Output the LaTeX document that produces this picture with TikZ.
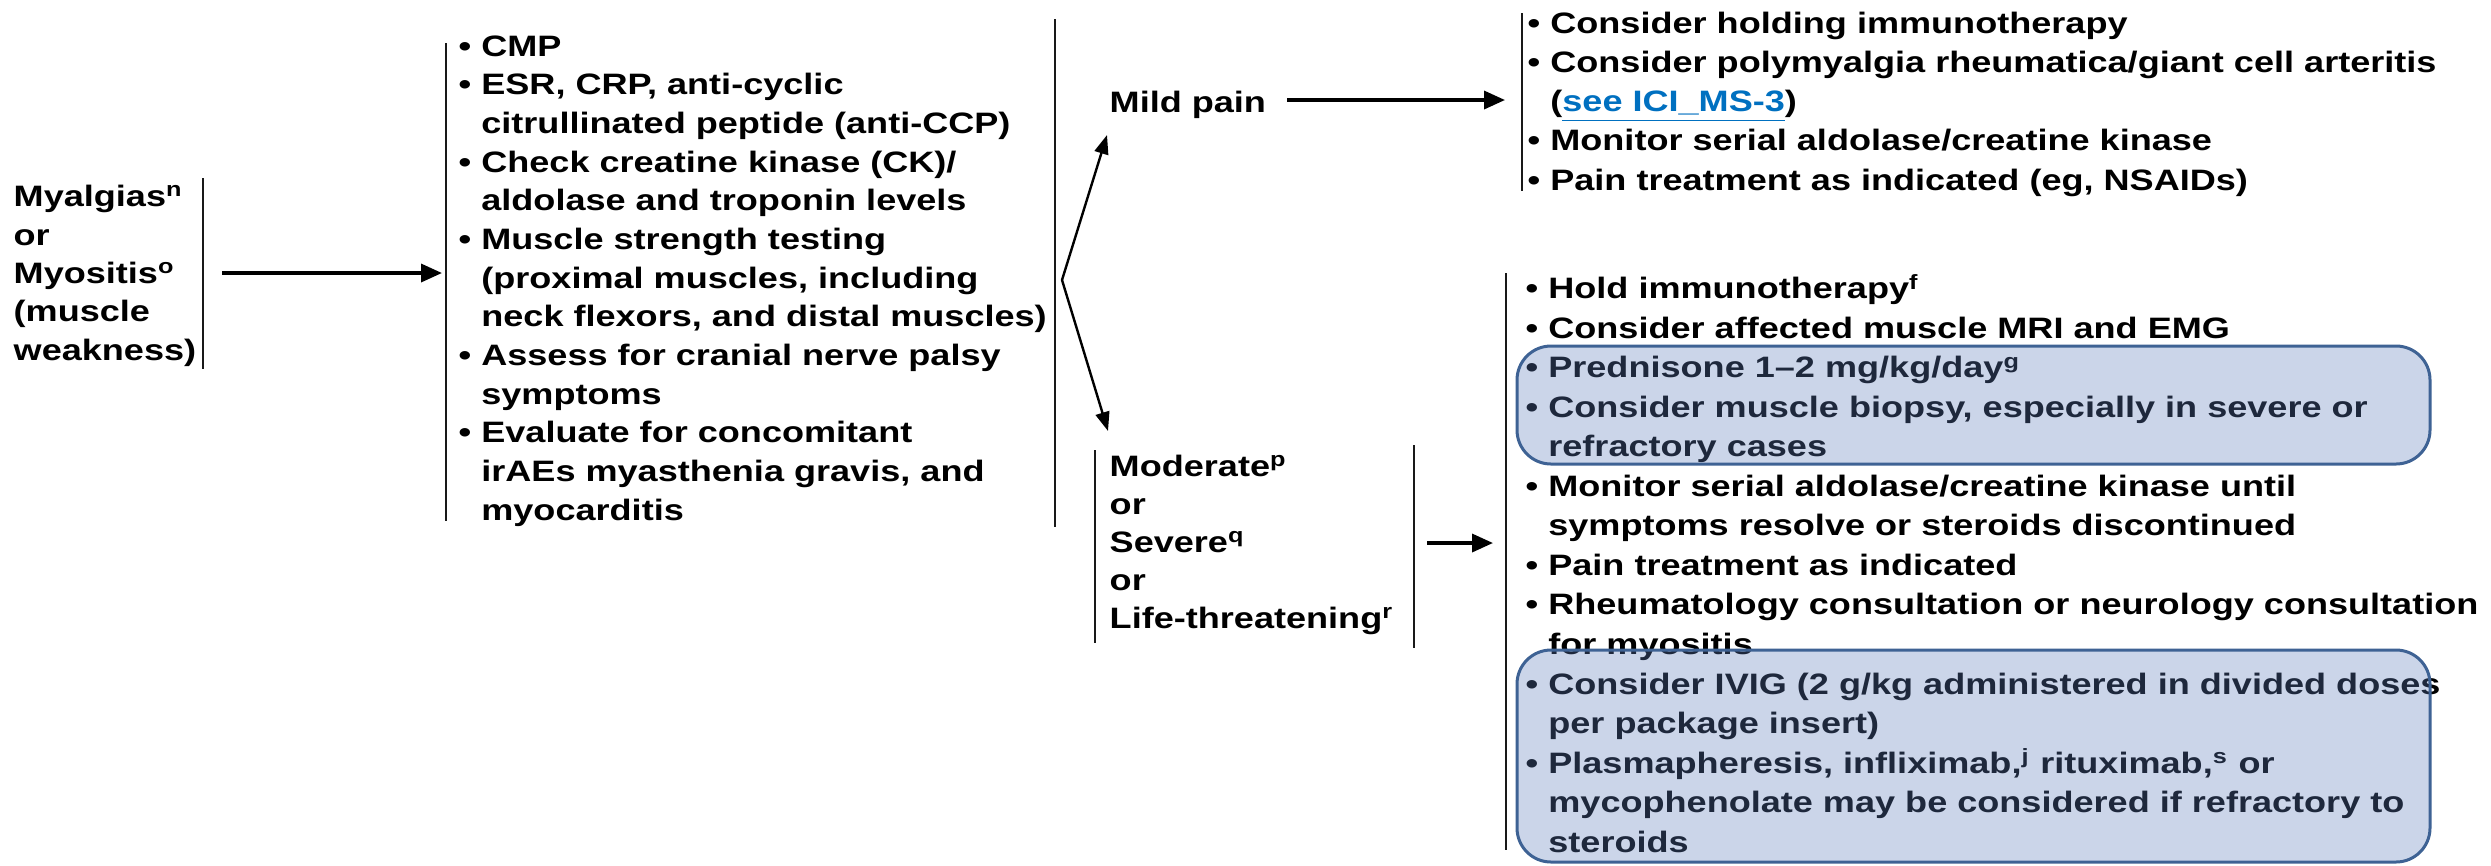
\documentclass[tikz,border=0pt]{standalone}
\usepackage{fontspec}
\setmainfont{Liberation Sans}[FakeStretch=1.222]
\usetikzlibrary{arrows.meta}

\definecolor{boxblue}{RGB}{94,125,188}
\definecolor{boxedge}{RGB}{62,98,148}
\definecolor{linkblue}{RGB}{0,112,192}
\definecolor{barcol}{RGB}{25,25,25}

% continuation indent equal to a bullet and its space
\newcommand{\ind}{\phantom{•\ }}
\newcommand{\xref}[1]{\textcolor{linkblue}{\underline{#1}}}

% text blocks are placed by the baseline of their last line
\tikzset{
  txt/.style={anchor=base west, inner sep=0pt, align=left,
              font=\bfseries\fontsize{8.4pt}{#1}\selectfont},
  txt/.default={11.05pt},
  bar/.style={draw=barcol, line width=0.028cm},
  arr/.style={draw=black, line width=0.035cm,
              -{Triangle[length=0.21cm,width=0.18cm]}},
  thinarr/.style={draw=black, line width=0.024cm,
              -{Triangle[length=0.19cm,width=0.14cm]}},
  hilite/.style={rounded corners=0.34cm, fill=boxblue, fill opacity=0.32,
                 draw=boxedge, draw opacity=1, line width=0.03cm},
}

\begin{document}
\begin{tikzpicture}
\useasboundingbox[fill=white] (0,0) rectangle (24.91,-8.65);

% ---------- symptom ----------
\node[txt=10.9pt] (sym) at (0.13,-3.60)
  {Myalgias\textsuperscript{n}\\ or\\ Myositis\textsuperscript{o}\\ (muscle\\ weakness)};
\coordinate (symT) at (2.03,-1.78);
\coordinate (symB) at (2.03,-3.69);
\draw[bar] (symT) -- (symB);

% ---------- workup ----------
\node[txt=11.0pt] (work) at (4.58,-5.20)
  {• CMP\\
   • ESR, CRP, anti-cyclic\\
   \ind citrullinated peptide (anti-CCP)\\
   • Check creatine kinase (CK)/\\
   \ind aldolase and troponin levels\\
   • Muscle strength testing\\
   \ind (proximal muscles, including\\
   \ind neck flexors, and distal muscles)\\
   • Assess for cranial nerve palsy\\
   \ind symptoms\\
   • Evaluate for concomitant\\
   \ind irAEs myasthenia gravis, and\\
   \ind myocarditis};
\coordinate (workT) at (4.46,-0.43);
\coordinate (workB) at (4.46,-5.21);
\draw[bar] (workT) -- (workB);
\coordinate (workRT) at (10.55,-0.19);
\coordinate (workRB) at (10.55,-5.27);
\draw[bar] (workRT) -- (workRB);

\coordinate (symOut) at (2.22,-2.73);
\coordinate (workIn) at (4.42,-2.73);
\draw[arr] (symOut) -- (workIn);

% ---------- grading ----------
\coordinate (fork) at (10.62,-2.80);
\node[txt] (mild) at (11.09,-1.12) {Mild pain};
\coordinate (mildIn) at (11.07,-1.35);
\draw[thinarr] (fork) -- (mildIn);

\node[txt=10.75pt] (sev) at (11.09,-6.28)
  {Moderate\textsuperscript{p}\\ or\\ Severe\textsuperscript{q}\\ or\\ Life-threatening\textsuperscript{r}};
\coordinate (sevIn) at (11.08,-4.31);
\draw[thinarr] (fork) -- (sevIn);
\coordinate (sevLT) at (10.95,-4.50);
\coordinate (sevLB) at (10.95,-6.43);
\draw[bar] (sevLT) -- (sevLB);
\coordinate (sevRT) at (14.14,-4.45);
\coordinate (sevRB) at (14.14,-6.48);
\draw[bar] (sevRT) -- (sevRB);

% ---------- mild management ----------
\node[txt=11.1pt] (mildtx) at (15.27,-1.90)
  {• Consider holding immunotherapy\\
   • Consider polymyalgia rheumatica/giant cell arteritis\\
   \ind(\xref{see ICI\_MS-3})\\
   • Monitor serial aldolase/creatine kinase\\
   • Pain treatment as indicated (eg, NSAIDs)};
\coordinate (mildT) at (15.22,-0.13);
\coordinate (mildB) at (15.22,-1.91);
\draw[bar] (mildT) -- (mildB);
\coordinate (mildOut) at (12.87,-1.00);
\coordinate (mildTxIn) at (15.05,-1.00);
\draw[arr] (mildOut) -- (mildTxIn);

% ---------- moderate / severe management ----------
\node[txt=11.24pt] (sevtx) at (15.25,-8.52)
  {• Hold immunotherapy\textsuperscript{f}\\
   • Consider affected muscle MRI and EMG\\
   • Prednisone 1–2 mg/kg/day\textsuperscript{g}\\
   • Consider muscle biopsy, especially in severe or\\
   \ind refractory cases\\
   • Monitor serial aldolase/creatine kinase until\\
   \ind symptoms resolve or steroids discontinued\\
   • Pain treatment as indicated\\
   • Rheumatology consultation or neurology consultation\\
   \ind for myositis\\
   • Consider IVIG (2 g/kg administered in divided doses\\
   \ind per package insert)\\
   • Plasmapheresis, infliximab,\textsuperscript{j} rituximab,\textsuperscript{s} or\\
   \ind mycophenolate may be considered if refractory to\\
   \ind steroids};
\coordinate (sevT) at (15.06,-2.73);
\coordinate (sevB) at (15.06,-8.50);
\draw[bar] (sevT) -- (sevB);
\coordinate (sevOut) at (14.27,-5.43);
\coordinate (sevTxIn) at (14.93,-5.43);
\draw[arr] (sevOut) -- (sevTxIn);

% highlighted treatment groups
\draw[hilite] (15.17,-3.46) rectangle (24.30,-4.64);
\draw[hilite] (15.17,-6.50) rectangle (24.30,-8.62);
\end{tikzpicture}
\end{document}
